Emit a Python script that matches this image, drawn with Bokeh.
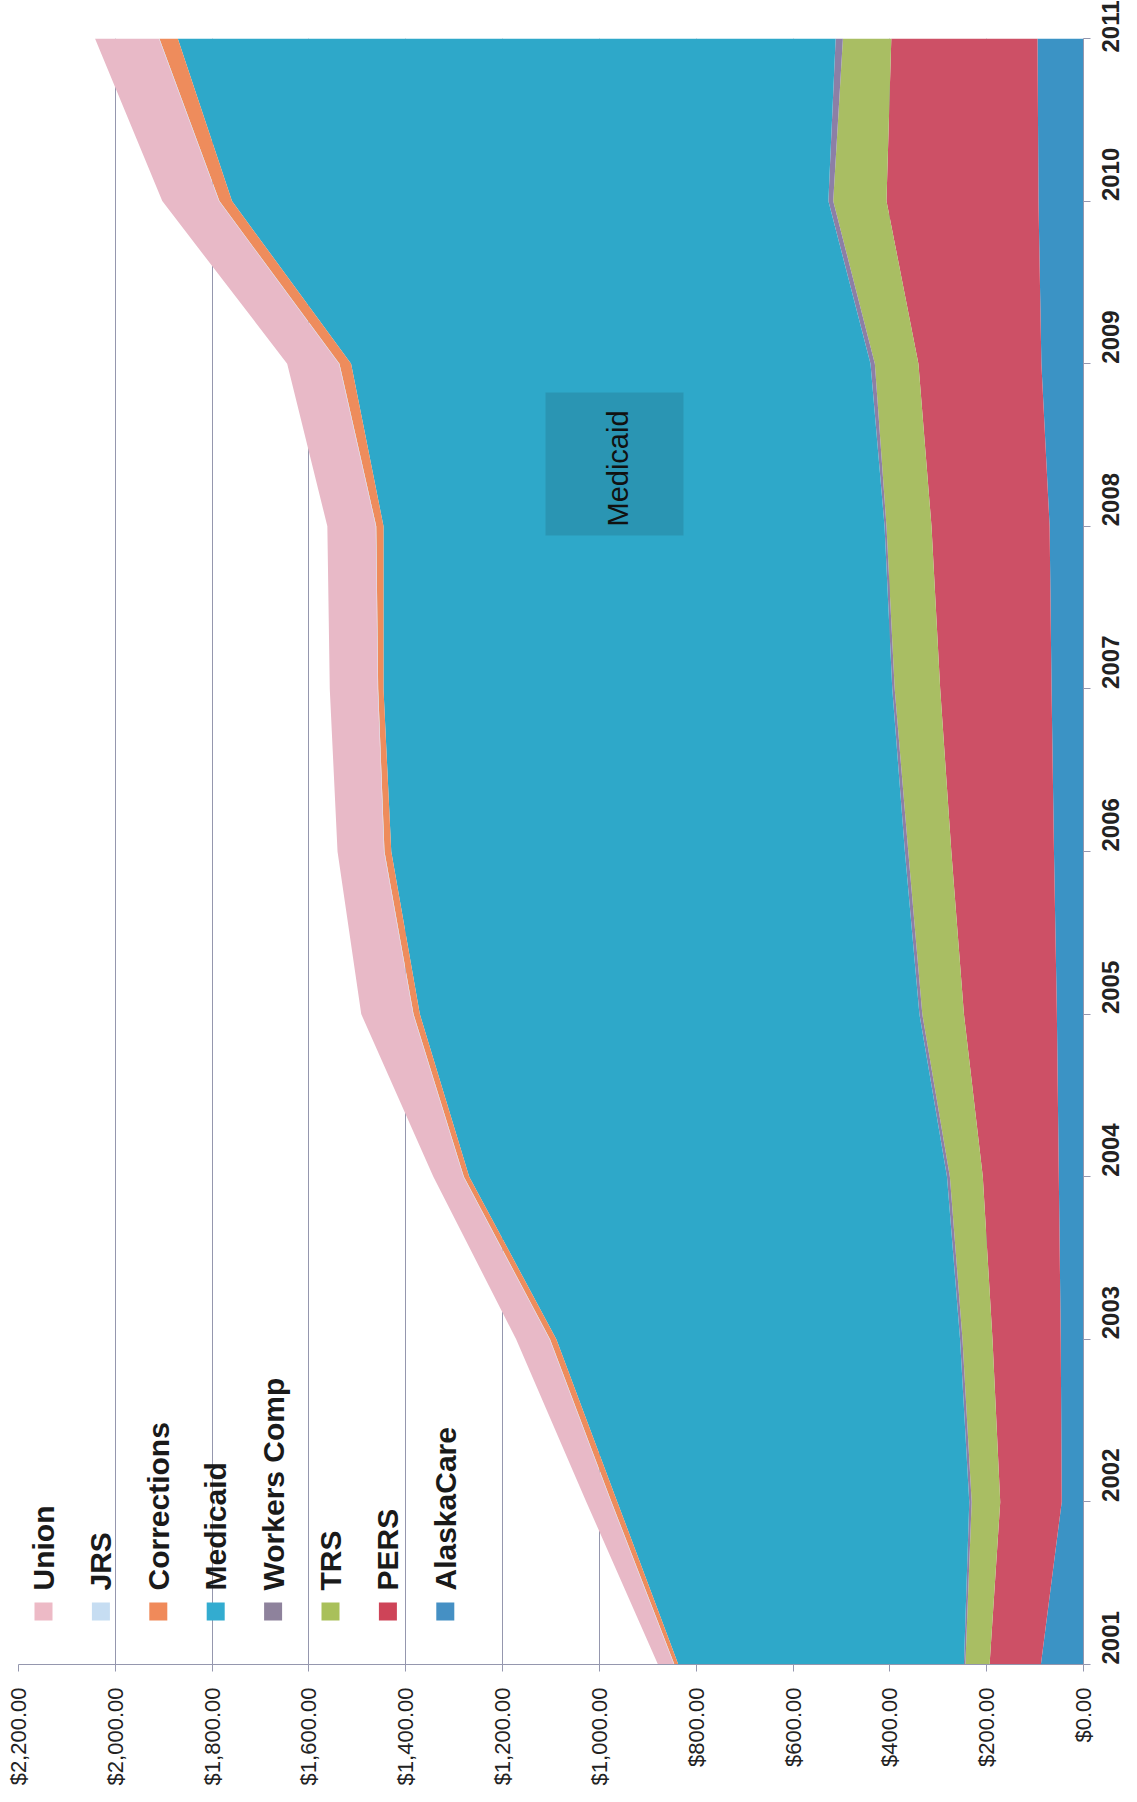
from math import pi
from bokeh.plotting import figure
from bokeh.models import (ColumnDataSource, Range1d, SingleIntervalTicker,
                          NumeralTickFormatter, BasicTickFormatter, Label, BoxAnnotation)
from bokeh.embed import file_html
from bokeh.resources import INLINE

# ---------------- data (values in $ millions) ----------------
years = [2001, 2002, 2003, 2004, 2005, 2006, 2007, 2008, 2009, 2010, 2011]
alaskacare = [88, 45, 47, 51, 55, 61, 66, 70, 87, 93, 95]
pers = [106, 127, 141, 157, 192, 212, 230, 244, 254, 314, 302]
trs = [50, 59, 62, 68, 86, 89, 94, 93, 90, 110, 100]
workers_comp = [3, 5, 5, 6, 6, 7, 5, 4, 9, 10, 15]
medicaid = [590, 727, 834, 987, 1032, 1061, 1051, 1035, 1073, 1232, 1359]
corrections = [8, 12, 13, 11, 13, 14, 11, 15, 24, 26, 38]
jrs = [1, 1, 1, 1, 1, 1, 1, 1, 1, 1, 1]
union = [33, 51, 69, 62, 107, 96, 99, 100, 107, 117, 132]

stack_names = ["AlaskaCare", "PERS", "TRS", "Workers Comp", "Medicaid",
               "Corrections", "JRS", "Union"]
legend_names = ["Union", "JRS", "Corrections", "Medicaid", "Workers Comp",
                "TRS", "PERS", "AlaskaCare"]
value_ticks_step = 200

# ---------------- styles ----------------
area_colors = {
    "AlaskaCare": "#3B93C5",
    "PERS": "#CD5066",
    "TRS": "#A9BE63",
    "Workers Comp": "#8C7FA6",
    "Medicaid": "#2EA8C9",
    "Corrections": "#EE8C5C",
    "JRS": "#C5DAF0",
    "Union": "#E8B9C7",
}
legend_colors = {
    "Union": "#EDBAC6",
    "JRS": "#C6DDF2",
    "Corrections": "#F08A5A",
    "Medicaid": "#33ACD0",
    "Workers Comp": "#8E829C",
    "TRS": "#A9C05A",
    "PERS": "#CE4458",
    "AlaskaCare": "#4590C4",
}
grid_color = "#9597AE"

source = ColumnDataSource(data={
    "year": years,
    "AlaskaCare": alaskacare,
    "PERS": pers,
    "TRS": trs,
    "Workers Comp": workers_comp,
    "Medicaid": medicaid,
    "Corrections": corrections,
    "JRS": jrs,
    "Union": union,
})

W, H = 1135, 1796
p = figure(width=W, height=H,
           x_range=Range1d(2200, 0), y_range=Range1d(2001, 2011),
           output_backend="svg", toolbar_location=None,
           x_axis_location="below", y_axis_location="right",
           min_border_left=18, min_border_right=W - 1083,
           min_border_top=38, min_border_bottom=H - 1664)
p.outline_line_color = None
p.background_fill_color = "white"
p.border_fill_color = "white"

p.harea_stack(stackers=stack_names, y="year", source=source,
              color=[area_colors[n] for n in stack_names])

# value axis (bottom)
xa = p.xaxis[0]
xa.ticker = SingleIntervalTicker(interval=value_ticks_step, num_minor_ticks=0)
xa.formatter = NumeralTickFormatter(format="$0,0.00")
xa.major_label_orientation = pi / 2
xa.major_tick_in = 0
xa.major_tick_out = 7
xa.minor_tick_in = 0
xa.minor_tick_out = 0
xa.axis_line_color = grid_color
xa.major_tick_line_color = grid_color
xa.major_label_text_font = "Liberation Sans"
xa.major_label_text_font_size = "22px"
xa.major_label_text_color = "#222222"
xa.major_label_standoff = 16

# year axis (right)
ya = p.yaxis[0]
ya.ticker = SingleIntervalTicker(interval=1, num_minor_ticks=0)
ya.formatter = BasicTickFormatter(use_scientific=False)
ya.major_label_orientation = pi / 2
ya.major_tick_in = 0
ya.major_tick_out = 7
ya.minor_tick_in = 0
ya.minor_tick_out = 0
ya.axis_line_color = grid_color
ya.major_tick_line_color = grid_color
ya.major_label_text_font = "Liberation Sans"
ya.major_label_text_font_style = "bold"
ya.major_label_text_font_size = "24px"
ya.major_label_text_color = "#222222"
ya.major_label_standoff = 20

p.xgrid.grid_line_color = grid_color
p.xgrid.grid_line_width = 1
p.ygrid.grid_line_color = None


# helpers: page pixel position -> data coordinates (layout only)
def v_at(px):
    return 2200.0 * (1083 - px) / (1083 - 18)


def yr_at(py):
    return 2001 + 10.0 * (1664 - py) / (1664 - 38)


# legend (rotated, drawn by hand)
for i, name in enumerate(legend_names):
    cx = 43 + 57.4 * i
    p.scatter(x=[v_at(cx)], y=[yr_at(1611)], marker="square", size=18,
              fill_color=legend_colors[name], line_color=None)
    p.add_layout(Label(x=v_at(cx), y=yr_at(1590), text=name, angle=pi / 2,
                       text_align="left", text_baseline="middle",
                       text_font="Liberation Sans", text_font_style="bold",
                       text_font_size="30px", text_color="#1a1a1a"))

# Medicaid data label with darker box
p.add_layout(BoxAnnotation(left=v_at(683), right=v_at(545),
                           bottom=yr_at(535), top=yr_at(392),
                           fill_color="#2A95B3", fill_alpha=1.0, line_color=None))
p.add_layout(Label(x=v_at(617), y=yr_at(468), text="Medicaid", angle=pi / 2,
                   text_align="center", text_baseline="middle",
                   text_font="Liberation Sans", text_font_size="29px",
                   text_color="#111111"))

open("out.html", "w").write(file_html(p, INLINE))
